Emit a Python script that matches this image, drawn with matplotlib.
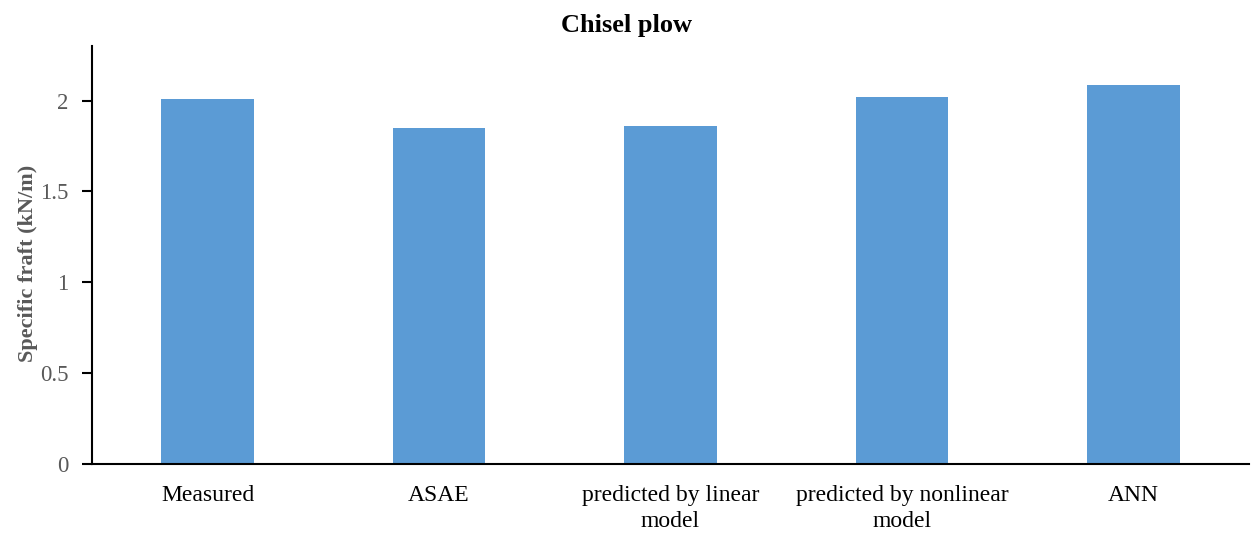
import matplotlib.pyplot as plt
import numpy as np

plt.rcParams['font.family'] = ['Liberation Serif', 'DejaVu Serif']

# Donnees
categories = ['Measured', 'ASAE', 'predicted by linear\nmodel',
              'predicted by nonlinear\nmodel', 'ANN']
draft = [2.01, 1.85, 1.86, 2.02, 2.085]
yticks = [0, 0.5, 1, 1.5, 2]

fig = plt.figure(figsize=(12.53, 5.33), dpi=100)
ax = fig.add_axes([0.0734, 0.1295, 0.9234, 0.7842])

x = np.arange(len(categories))
ax.bar(x, draft, width=0.4, color='#5B9BD5')

ax.set_xlim(-0.5, len(categories) - 0.5)
ax.set_ylim(0, 2.3)
ax.set_xticks(x)
ax.set_xticklabels(categories, fontsize=17, color='black', linespacing=1.3)
ax.set_yticks(yticks)
ax.set_yticklabels([f'{v:g}' for v in yticks], fontsize=16.5, color='#595959')
ax.tick_params(axis='x', length=0, pad=15)
ax.tick_params(axis='y', length=7, width=1.5, direction='out', pad=10)

for side in ['top', 'right']:
    ax.spines[side].set_visible(False)
for side in ['left', 'bottom']:
    ax.spines[side].set_linewidth(1.5)

ax.set_ylabel('Specific fraft (kN/m)', fontsize=16, fontweight='bold',
              color='#595959')
ax.yaxis.set_label_coords(-0.047, 0.48)
fig.text(0.5, 0.953, 'Chisel plow', ha='center', va='center',
         fontsize=19, fontweight='bold')

plt.savefig('out.png', dpi=100)
